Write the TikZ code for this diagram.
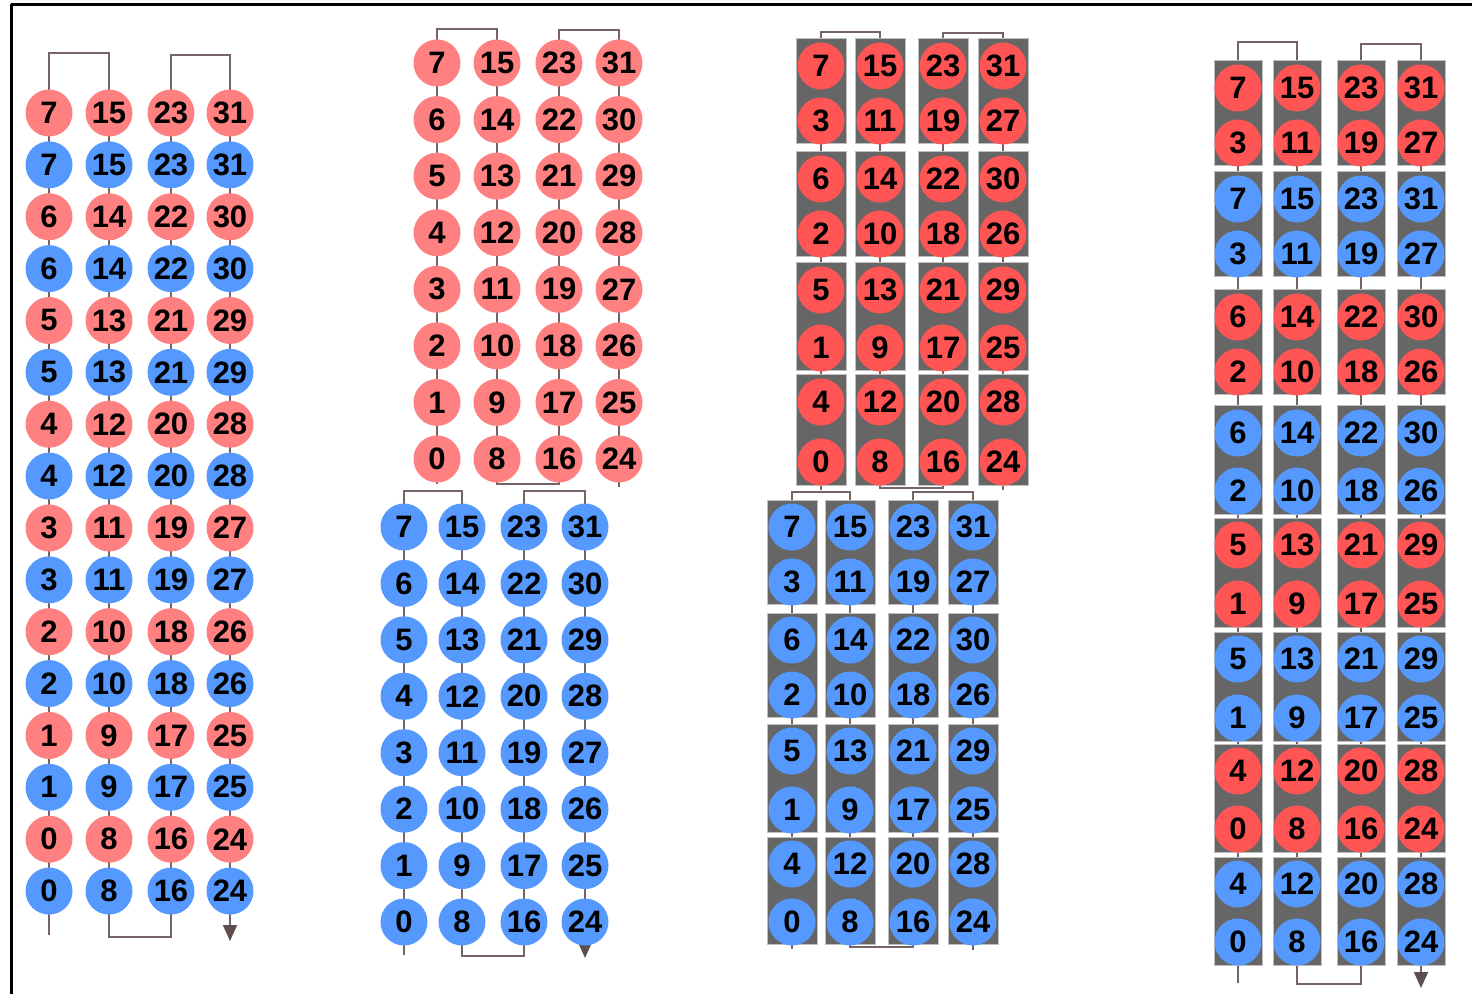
\documentclass[tikz,border=0pt]{standalone}
\usepackage{fontspec}
\setmainfont{Liberation Sans}
\usetikzlibrary{arrows.meta}
\pgfdeclarelayer{lines}
\pgfdeclarelayer{boxes}
\pgfsetlayers{lines,boxes,main}
\definecolor{lred}{RGB}{255,128,128}
\definecolor{sred}{RGB}{255,85,85}
\definecolor{ablue}{RGB}{85,153,255}
\definecolor{boxgray}{RGB}{102,102,102}
\definecolor{conncol}{RGB}{118,100,100}
\definecolor{tipcol}{RGB}{95,78,78}
\tikzset{
  ball/.style={circle, minimum size=23.5pt, inner sep=0pt, text=black,
    font=\fontsize{15.5}{15.5}\selectfont\bfseries},
  lr/.style={ball, fill=lred},
  sr/.style={ball, fill=sred},
  bl/.style={ball, fill=ablue},
  conn/.style={draw=conncol, line width=1pt},
  arr/.style={conn, -{Triangle[width=7pt,length=8pt,color=tipcol]}},
  grbox/.style={fill=boxgray, draw=black!25, line width=0.5pt},
}
\begin{document}
\begin{tikzpicture}[x=0.5pt,y=-0.5pt]
\useasboundingbox (0,0) rectangle (1472,994);
% frame
\draw[line width=1.6pt] (11.5,994) -- (11.5,4.5);
\draw[line width=1.3pt] (10.7,4.5) -- (1472,4.5);

% ---------- panel 1 ----------
\foreach \c/\x in {1/49,2/109,3/171,4/230}{
  \foreach \r in {1,...,16}{
    \pgfmathtruncatemacro\v{8*(\c-1)+7-int((\r-1)/2)}
    \pgfmathsetmacro\y{113+(\r-1)*51.87}
    \ifodd\r
      \node[lr] (a-\c-\r) at (\x,\y) {\v};
    \else
      \node[bl] (a-\c-\r) at (\x,\y) {\v};
    \fi
  }
}
\coordinate (a-s) at (49,935);
\coordinate (a-t1) at (109,53);
\coordinate (a-b1) at (171,937);
\coordinate (a-t2) at (230,55);
\coordinate (a-e) at (230,941);

% ---------- panel 2 red ----------
\foreach \c/\x in {1/437,2/497,3/559,4/619}{
  \foreach \r in {1,...,8}{
    \pgfmathtruncatemacro\v{8*(\c-1)+8-\r}
    \pgfmathsetmacro\y{63+(\r-1)*56.57}
    \node[lr] (b-\c-\r) at (\x,\y) {\v};
  }
}
\coordinate (b-s) at (437,484);
\coordinate (b-t1) at (497,29);
\coordinate (b-b1) at (559,484);
\coordinate (b-t2) at (619,30);
\coordinate (b-e) at (619,487);

% ---------- panel 2 blue ----------
\foreach \c/\x in {1/404,2/462,3/524,4/585}{
  \foreach \r in {1,...,8}{
    \pgfmathtruncatemacro\v{8*(\c-1)+8-\r}
    \pgfmathsetmacro\y{527+(\r-1)*56.43}
    \node[bl] (c-\c-\r) at (\x,\y) {\v};
  }
}
\coordinate (c-s) at (404,955);
\coordinate (c-t1) at (462,491);
\coordinate (c-b1) at (524,956);
\coordinate (c-t2) at (585,491);
\coordinate (c-e) at (585,958);

% ---------- panel 3 red ----------
\foreach \c/\x in {1/821,2/880,3/943,4/1003}{
  \foreach \r/\y/\l in {1/66/7,2/121/3,3/179/6,4/234/2,5/290/5,6/348/1,7/402/4,8/462/0}{
    \pgfmathtruncatemacro\v{8*(\c-1)+\l}
    \node[sr] (d-\c-\r) at (\x,\y) {\v};
  }
  \begin{pgfonlayer}{boxes}
  \foreach \t/\b in {66/121,179/234,290/348,402/462}{
    \draw[grbox] ({\x-25},{\t-27}) rectangle ({\x+25},{\b+23});
  }
  \end{pgfonlayer}
}
\coordinate (d-s) at (821,490);
\coordinate (d-t1) at (880,32);
\coordinate (d-b1) at (943,488);
\coordinate (d-t2) at (1003,33);
\coordinate (d-e) at (1003,490);

% ---------- panel 3 blue ----------
\foreach \c/\x in {1/792,2/850,3/913,4/973}{
  \foreach \r/\y/\l in {1/527/7,2/582/3,3/640/6,4/695/2,5/751/5,6/810/1,7/864/4,8/922/0}{
    \pgfmathtruncatemacro\v{8*(\c-1)+\l}
    \node[bl] (e-\c-\r) at (\x,\y) {\v};
  }
  \begin{pgfonlayer}{boxes}
  \foreach \t/\b in {527/582,640/695,751/810,864/922}{
    \draw[grbox] ({\x-25},{\t-27}) rectangle ({\x+25},{\b+22});
  }
  \end{pgfonlayer}
}
\coordinate (e-s) at (792,949);
\coordinate (e-t1) at (850,492);
\coordinate (e-b1) at (913,947);
\coordinate (e-t2) at (973,492);
\coordinate (e-e) at (973,950);

% ---------- panel 4 ----------
\foreach \c/\x in {1/1238,2/1297,3/1361,4/1421}{
  \foreach \r/\y/\l/\s in {1/88/7/sr,2/143/3/sr,3/199/7/bl,4/254/3/bl,
      5/317/6/sr,6/372/2/sr,7/433/6/bl,8/491/2/bl,
      9/545/5/sr,10/604/1/sr,11/659/5/bl,12/718/1/bl,
      13/771/4/sr,14/829/0/sr,15/884/4/bl,16/942/0/bl}{
    \pgfmathtruncatemacro\v{8*(\c-1)+\l}
    \node[\s] (f-\c-\r) at (\x,\y) {\v};
  }
  \begin{pgfonlayer}{boxes}
  \foreach \t/\b in {88/143,199/254,317/372,433/491,545/604,659/718,771/829,884/942}{
    \draw[grbox] ({\x-24},{\t-27}) rectangle ({\x+24},{\b+23});
  }
  \end{pgfonlayer}
}
\coordinate (f-s) at (1238,983);
\coordinate (f-t1) at (1297,42);
\coordinate (f-b1) at (1361,984);
\coordinate (f-t2) at (1421,44);
\coordinate (f-e) at (1421,988);

% ---------- connectors ----------
\begin{pgfonlayer}{lines}
\draw[arr] (a-s) -- (a-1-1.center) |- (a-t1) -- (a-2-16.center) |- (a-b1)
  -- (a-3-1.center) |- (a-t2) -- (a-e);
\draw[conn] (b-s) -- (b-1-1.center) |- (b-t1) -- (b-2-8.center) |- (b-b1)
  -- (b-3-1.center) |- (b-t2) -- (b-e);
\draw[arr] (c-s) -- (c-1-1.center) |- (c-t1) -- (c-2-8.center) |- (c-b1)
  -- (c-3-1.center) |- (c-t2) -- (c-e);
\draw[conn] (d-s) -- (d-1-1.center) |- (d-t1) -- (d-2-8.center) |- (d-b1)
  -- (d-3-1.center) |- (d-t2) -- (d-e);
\draw[conn] (e-s) -- (e-1-1.center) |- (e-t1) -- (e-2-8.center) |- (e-b1)
  -- (e-3-1.center) |- (e-t2) -- (e-e);
\draw[arr] (f-s) -- (f-1-1.center) |- (f-t1) -- (f-2-16.center) |- (f-b1)
  -- (f-3-1.center) |- (f-t2) -- (f-e);
\end{pgfonlayer}
\end{tikzpicture}
\end{document}
